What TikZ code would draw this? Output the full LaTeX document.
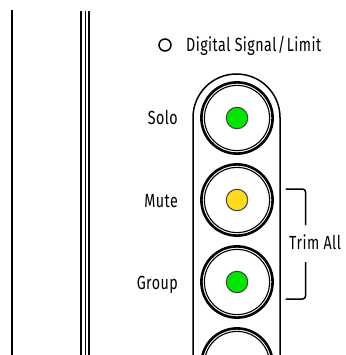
\documentclass[tikz,border=0pt]{standalone}
\usepackage{fontspec}
\setmainfont{Fira Sans}[FakeStretch=0.75,LetterSpace=2.5]
\begin{document}
\begin{tikzpicture}[x=1pt,y=-1pt,
  lbl/.style={font=\fontsize{19}{20}\selectfont, inner sep=0pt},
  outerring/.style={draw=black, line width=2.6pt},
  innerring/.style={draw=black, line width=1.1pt},
  led/.style={circle, draw=black!75, line width=1pt, minimum size=21.5pt, inner sep=0pt},
  rail/.style={draw=black}]
\useasboundingbox (0,0) rectangle (345,355);
\fill[white] (0,0) rectangle (345,355);
% vertical rails
\draw[rail, line width=1.3pt] (12,10) -- (12,356);
\draw[rail, line width=2.2pt] (81.2,11) -- (81.2,356);
\draw[rail, line width=1.2pt] (85.2,11) -- (85.2,356);
\draw[rail, line width=1.8pt] (88.6,11) -- (88.6,356);
% capsule
\draw[line width=1.5pt] (193,360) -- (193,117.5) arc[start angle=180, end angle=360, radius=43.5] -- (280,360);
% buttons
\foreach \n/\yy in {solo/118, mute/200, group/282, last/364}{
  \coordinate (\n) at (237,\yy);
  \draw[outerring] (\n) circle[radius=35.6];
  \draw[innerring] (\n) circle[radius=32.6];
}
\definecolor{ledgreen}{RGB}{0,230,0}
\definecolor{ledyellow}{RGB}{255,219,30}
\node[led, fill=ledgreen] (ledsolo) at (solo) {};
\node[led, fill=ledyellow] (ledmute) at (mute) {};
\node[led, fill=ledgreen] (ledgroup) at (group) {};
% labels
\node[lbl, anchor=base east] (tsolo) at (178,125) {Solo};
\node[lbl, anchor=base east] (tmute) at (178,207) {Mute};
\node[lbl, anchor=base east] (tgroup) at (178,289) {Group};
% digital signal
\draw[line width=1.5pt] (165,45) circle[radius=6];
\node[lbl, anchor=base west] (tdig) at (186,52) {Digital Signal\hspace{1.5pt}/\hspace{1.5pt}Limit};
% trim all bracket
\node[lbl, anchor=base west] (ttrim) at (289,249) {Trim All};
\coordinate (bt) at (285.5,189);
\coordinate (bb) at (285.5,299);
\draw[line width=1.5pt, rounded corners=3pt] (bt) -- (305.5,189) -- (305.5,225);
\draw[line width=1.5pt, rounded corners=3pt] (305.5,262) -- (305.5,299) -- (bb);
\end{tikzpicture}
\end{document}
